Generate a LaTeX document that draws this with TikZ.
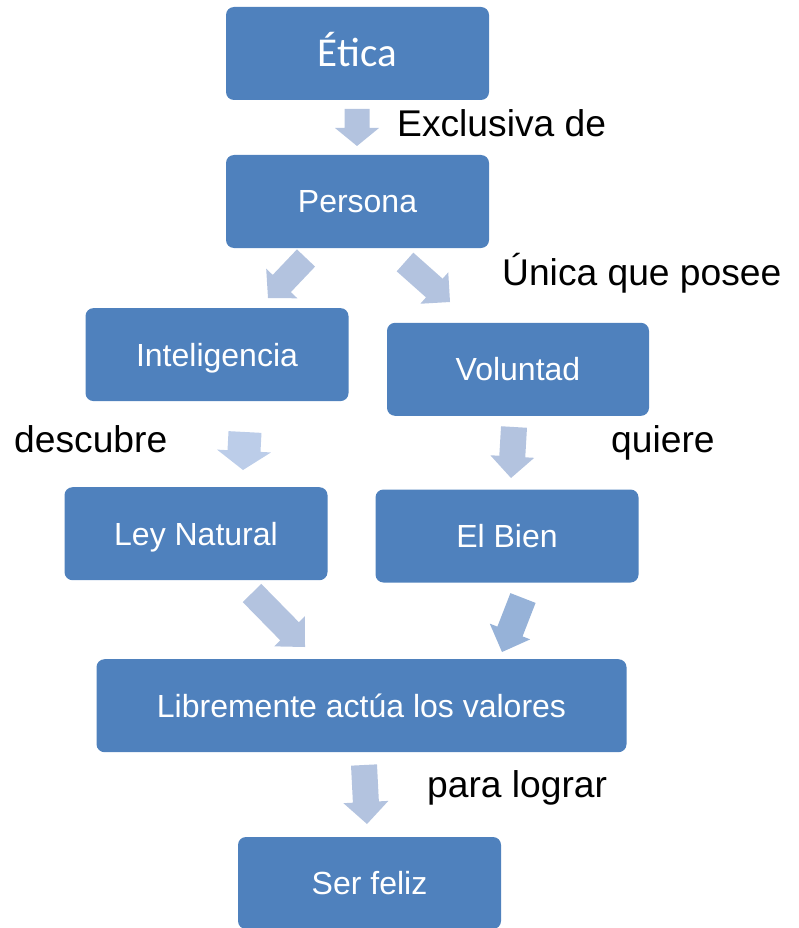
\documentclass[tikz,border=0pt]{standalone}
\usepackage{fontspec}
\setmainfont{Liberation Sans}
\newfontfamily\calib{Carlito}
\usetikzlibrary{calc}
\definecolor{boxblue}{HTML}{4F81BD}
\definecolor{arrA}{HTML}{B3C3DF}
\definecolor{arrB}{HTML}{BCCDE9}
\definecolor{arrC}{HTML}{96B2D8}
\tikzset{
  box/.style={fill=boxblue, rounded corners=8pt, text=white, inner sep=0pt,
    font=\fontsize{32}{36}\selectfont, text height=22.9pt, text depth=0pt},
  lbl/.style={anchor=base west, inner sep=0pt, font=\fontsize{37.2}{42}\selectfont, text=black},
}
% \blockarr{start}{tip}{shaft width/2}{head width/2}{head length}{color}
\newcommand{\blockarr}[6]{%
  \fill[#6] ($(#1)!#3!90:(#2)$)
    -- ($($(#2)!#5!(#1)$)!#3!90:(#2)$)
    -- ($($(#2)!#5!(#1)$)!#4!90:(#2)$)
    -- (#2)
    -- ($($(#2)!#5!(#1)$)!#4!-90:(#2)$)
    -- ($($(#2)!#5!(#1)$)!#3!-90:(#2)$)
    -- ($(#1)!#3!-90:(#2)$) -- cycle;}
\begin{document}
\begin{tikzpicture}[x=1pt,y=-1pt]
\useasboundingbox (0,0) rectangle (798,928);
% boxes
\node[box, minimum width=263pt, minimum height=93pt, text height=26pt,
  font=\calib\fontsize{41}{46}\selectfont] (etica) at (357.5,53.5) {Ética};
\node[box, minimum width=263pt, minimum height=93pt] (persona) at (357.5,201.5) {Persona};
\node[box, minimum width=263pt, minimum height=93pt] (intel) at (217,354.6) {Inteligencia};
\node[box, minimum width=262pt, minimum height=93pt] (volun) at (518,369.3) {Voluntad};
\node[box, minimum width=263pt, minimum height=93pt] (ley) at (196,533.7) {Ley Natural};
\node[box, minimum width=263pt, minimum height=93pt] (bien) at (507,536) {El Bien};
\node[box, minimum width=530pt, minimum height=93pt] (libre) at (361.5,705.7) {Libremente actúa los valores};
\node[box, minimum width=263pt, minimum height=92pt] (feliz) at (369.5,883) {Ser feliz};
% arrow end points
\coordinate (a1s) at (357,109);  \coordinate (a1t) at (357,146);
\coordinate (a2s) at (306,258);  \coordinate (a2t) at (268,298);
\coordinate (a3s) at (405,262);  \coordinate (a3t) at (450,302);
\coordinate (a4s) at (245,432);  \coordinate (a4t) at (243,470);
\coordinate (a5s) at (514,427);  \coordinate (a5t) at (511,478);
\coordinate (a6s) at (252,593);  \coordinate (a6t) at (305,647);
\coordinate (a7s) at (523,598);  \coordinate (a7t) at (502,652);
\coordinate (a8s) at (364,765);  \coordinate (a8t) at (367,824);
\blockarr{a1s}{a1t}{12.5pt}{22pt}{18pt}{arrA}
\blockarr{a2s}{a2t}{12.5pt}{21.5pt}{20pt}{arrA}
\blockarr{a3s}{a3t}{12.5pt}{21pt}{21pt}{arrA}
\blockarr{a4s}{a4t}{16.5pt}{27pt}{19pt}{arrB}
\blockarr{a5s}{a5t}{13pt}{22pt}{21.5pt}{arrA}
\blockarr{a6s}{a6t}{13pt}{21.5pt}{22pt}{arrA}
\blockarr{a7s}{a7t}{13.5pt}{21.7pt}{22pt}{arrC}
\blockarr{a8s}{a8t}{13pt}{22.5pt}{22pt}{arrA}
% labels
\node[lbl] (lexcl) at (397,137) {Exclusiva de};
\node[lbl] (lunica) at (502,285) {Única que posee};
\node[lbl] (ldesc) at (14,452) {descubre};
\node[lbl] (lquiere) at (611,452) {quiere};
\node[lbl] (lpara) at (427,797) {para lograr};
\end{tikzpicture}
\end{document}
